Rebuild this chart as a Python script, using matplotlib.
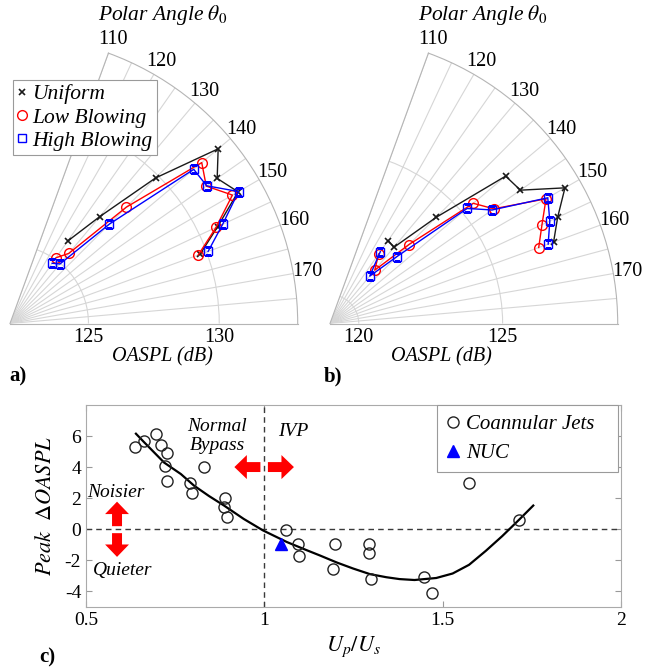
import numpy as np
import matplotlib.pyplot as plt
from matplotlib.lines import Line2D

plt.rcParams['font.family'] = ['Liberation Serif', 'DejaVu Serif']
plt.rcParams['mathtext.fontset'] = 'stix'
plt.rcParams['axes.unicode_minus'] = False

# ---- polar data (OASPL in dB vs polar angle) ----
theta0 = [125, 130, 135, 140, 145, 150, 155, 160]
theta_labels = [110, 120, 130, 140, 150, 160, 170]

uni_a = [125.85, 127.33, 129.87, 132.39, 131.67, 132.07, 130.76, 129.73]
low_a = [125.07, 125.50, 128.29, 131.57, 131.16, 131.82, 130.69, 129.66]
high_a = [124.81, 124.97, 127.38, 131.17, 131.18, 132.09, 130.97, 130.06]

uni_b = [122.52, 122.46, 124.22, 126.97, 127.08, 128.43, 127.73, 127.27]
low_b = [121.95, 121.42, 122.88, 125.50, 125.95, 127.67, 127.13, 126.72]
high_b = [122.05, 121.15, 122.29, 125.22, 125.88, 127.74, 127.43, 127.07]

# ---- panel c data ----
jets_x = [0.638, 0.663, 0.696, 0.710, 0.727, 0.722, 0.726, 0.792, 0.798, 0.831,
          0.891, 0.888, 0.896, 1.060, 1.093, 1.098, 1.198, 1.193, 1.293, 1.293,
          1.298, 1.449, 1.470, 1.574, 1.714]
jets_y = [5.29, 5.68, 6.10, 5.40, 4.93, 4.08, 3.12, 2.97, 2.31, 4.01,
          1.99, 1.41, 0.81, -0.08, -0.94, -1.75, -0.94, -2.60, -0.94, -1.53,
          -3.22, -3.11, -4.10, 2.97, 0.58]
nuc_x = [1.047]
nuc_y = [-0.98]

# fitted trend line
fit_x = [0.640, 0.663, 0.719, 0.766, 0.803, 0.845, 0.887, 0.942, 0.996, 1.063,
         1.119, 1.156, 1.203, 1.249, 1.296, 1.342, 1.379, 1.421, 1.482, 1.528,
         1.574, 1.621, 1.667, 1.714, 1.754]
fit_y = [6.15, 5.60, 4.29, 3.55, 2.80, 2.13, 1.52, 0.66, -0.08, -0.83,
         -1.36, -1.70, -2.15, -2.54, -2.90, -3.10, -3.22, -3.28, -3.15, -2.86,
         -2.30, -1.40, -0.45, 0.60, 1.52]

W, H = 649, 667
fig = plt.figure(figsize=(W / 100, H / 100), dpi=100)
R = 287.7
GRID = '#d6d6d6'


def polar_panel(ox, oy, rmin, rmax, rticks, uni, low, high):
    pad = R * (1 - np.sin(np.deg2rad(70))) / 2
    ax = fig.add_axes([ox / W, (H - oy - pad) / H, R / W, R / H], projection='polar')
    ax.set_thetamin(0)
    ax.set_thetamax(70)
    th = np.deg2rad(180 - np.array(theta0))
    ax.plot(th, uni, color='#1a1a1a', marker='x', ms=5, mew=1.2, lw=1)
    ax.plot(th, low, color='red', marker='o', ms=7, mfc='none', mew=1, lw=1)
    ax.plot(th, high, color='blue', marker='s', ms=6, mfc='none', mew=1, lw=1)
    grid_deg = np.arange(0, 71, 5)
    labs = [str(180 - g) if (180 - g) in theta_labels else '' for g in grid_deg]
    ax.set_thetagrids(grid_deg, labs)
    ax.set_rlim(rmin, rmax)
    ax.set_rticks(rticks)
    ax.set_yticklabels([str(r) for r in rticks])
    ax.grid(True, color=GRID, lw=0.8)
    ax.tick_params(length=0, labelsize=14.5)
    for s in ax.spines.values():
        s.set_color('#b5b5b5')
        s.set_linewidth(0.8)
    return ax


ax_a = polar_panel(10, 323.5, 122, 133, [125, 130], uni_a, low_a, high_a)
ax_b = polar_panel(330, 323.5, 119, 129, [120, 125], uni_b, low_b, high_b)

handles = [Line2D([], [], ls='none', marker='x', ms=5, mew=1.2, color='#1a1a1a'),
           Line2D([], [], ls='none', marker='o', ms=7, mfc='none', color='red'),
           Line2D([], [], ls='none', marker='s', ms=6, mfc='none', color='blue')]
leg = fig.legend(handles, ['Uniform', 'Low Blowing', 'High Blowing'],
                 loc='upper left', bbox_to_anchor=(12.7 / W, 1 - 80 / H),
                 prop={'style': 'italic', 'size': 15.5}, handlelength=0.45,
                 handletextpad=0.25, borderpad=0.2, labelspacing=0.15,
                 borderaxespad=0, fancybox=False, framealpha=1)
leg.get_frame().set_edgecolor('#9a9a9a')
leg.get_frame().set_linewidth(0.8)

for cx in (163, 483):
    fig.text(cx / W, 1 - 15 / H, r'Polar Angle $\theta_0$', ha='center', va='center',
             style='italic', size=15.5)
fig.text(162 / W, 1 - 357 / H, 'OASPL (dB)', ha='center', va='center', style='italic', size=14.5)
fig.text(441 / W, 1 - 357 / H, 'OASPL (dB)', ha='center', va='center', style='italic', size=14.5)
fig.text(18 / W, 1 - 376 / H, 'a)', ha='center', va='center', weight='bold', size=15)
fig.text(333 / W, 1 - 376 / H, 'b)', ha='center', va='center', weight='bold', size=15)
fig.text(47 / W, 1 - 657 / H, 'c)', ha='center', va='center', weight='bold', size=15)

# ---- panel c ----
ax = fig.add_axes([86 / W, 60.3 / H, 535 / W, 201.7 / H])
ax.axhline(0, color='#3a3a3a', lw=1, ls=(0, (4, 3)))
ax.axvline(1, color='#3a3a3a', lw=1, ls=(0, (4, 3)))
ax.plot(fit_x, fit_y, color='black', lw=1.6)
ax.plot(jets_x, jets_y, ls='none', marker='o', ms=8, mfc='none', mec='#222222',
        mew=1, label='Coannular Jets')
ax.plot(nuc_x, nuc_y, ls='none', marker='^', ms=8, color='blue', label='NUC')
ax.set_xlim(0.5, 2)
ax.set_ylim(-5, 8)
ax.set_xticks([0.5, 1, 1.5, 2])
ax.set_xticklabels(['0.5', '1', '1.5', '2'])
ax.set_yticks([-4, -2, 0, 2, 4, 6])
ax.tick_params(direction='in', top=True, right=True, length=4, color='#999999',
               labelsize=14)
for s in ax.spines.values():
    s.set_color('#aaaaaa')
ax.set_xlabel(r'$U_p/U_s$', size=16, labelpad=4)
ax.set_ylabel(r'$Peak\ \ \Delta OASPL$', size=16, labelpad=6)

# red arrows
ax.arrow(0.989, 4, -0.073, 0, width=0.64, head_width=1.55, head_length=0.035,
         length_includes_head=True, fc='red', ec='none')
ax.arrow(1.010, 4, 0.073, 0, width=0.64, head_width=1.55, head_length=0.035,
         length_includes_head=True, fc='red', ec='none')
ax.arrow(0.587, 0.19, 0, 1.58, width=0.028, head_width=0.067, head_length=0.8,
         length_includes_head=True, fc='red', ec='none')
ax.arrow(0.587, -0.26, 0, -1.53, width=0.028, head_width=0.067, head_length=0.8,
         length_includes_head=True, fc='red', ec='none')

ax.text(0.868, 6.0, 'Normal\nBypass', ha='center', va='center', style='italic',
        size=14, linespacing=1.1)
ax.text(1.082, 6.32, 'IVP', ha='center', va='center', style='italic', size=14)
ax.text(0.584, 2.33, 'Noisier', ha='center', va='center', style='italic', size=14)
ax.text(0.603, -2.64, 'Quieter', ha='center', va='center', style='italic', size=14)

lg = ax.legend(loc='upper left', mode='expand',
               bbox_to_anchor=((437 - 86) / 535, 0, (618.3 - 437) / 535, 1),
               prop={'style': 'italic', 'size': 15},
               handlelength=0.6, handletextpad=0.35, borderpad=0.45,
               labelspacing=0.45, borderaxespad=0, fancybox=False, framealpha=1)
lg.get_frame().set_edgecolor('#9a9a9a')
lg.get_frame().set_linewidth(0.8)

fig.savefig('out.png', dpi=100)
